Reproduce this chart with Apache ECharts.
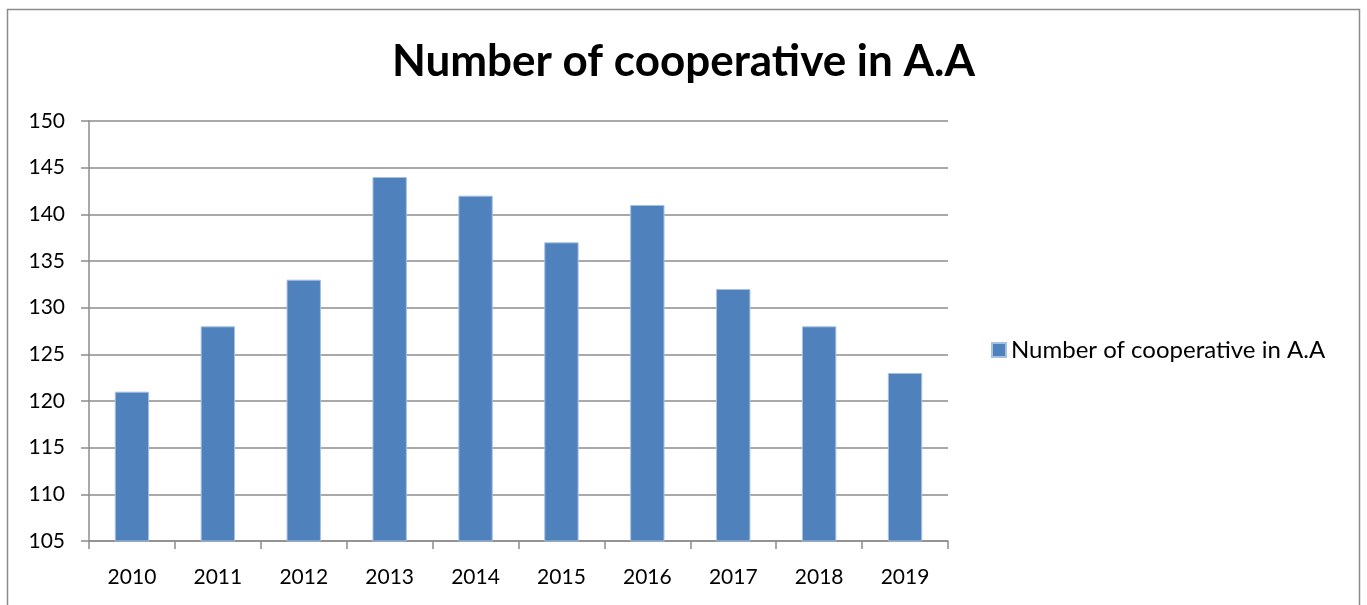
<!DOCTYPE html>
<html><head><meta charset="utf-8">
<script src="https://cdn.jsdelivr.net/npm/echarts@6/dist/echarts.min.js"></script>
<style>html,body{margin:0;padding:0;background:#fff}#c{width:1367px;height:605px}</style>
</head><body><div id="c"></div>
<script>
const categories = ['2010','2011','2012','2013','2014','2015','2016','2017','2018','2019'];
const values = [121,128,133,144,142,137,141,132,128,123];
const seriesName = 'Number of cooperative in A.A';
const titleText = 'Number of cooperative in A.A';
const FONT = 'Lato';
const chart = echarts.init(document.getElementById('c'));
chart.setOption({
  animation:false,
  backgroundColor:'#fff',
  graphic:[{type:'rect',shape:{x:7.5,y:9.5,width:1352,height:620},style:{fill:'none',stroke:'#8c8c8c',lineWidth:1.5},silent:true}],
  title:{text:titleText,left:'center',top:35,textStyle:{fontFamily:FONT,fontWeight:'bold',fontSize:44,color:'#000'}},
  legend:{left:986,top:333,itemWidth:14,itemHeight:14,itemGap:8,icon:'rect',textStyle:{fontFamily:FONT,fontSize:24,color:'#000'},data:[seriesName]},
  grid:{left:89,right:419,top:121,bottom:64,containLabel:false},
  xAxis:{type:'category',data:categories,boundaryGap:true,
    axisLine:{lineStyle:{color:'#8c8c8c',width:1.5}},
    axisTick:{show:true,length:8,alignWithLabel:false,lineStyle:{color:'#8c8c8c',width:1.5}},
    axisLabel:{fontFamily:FONT,fontSize:21,color:'#000',margin:26}},
  yAxis:{type:'value',min:105,max:150,interval:5,
    axisLine:{show:true,lineStyle:{color:'#8c8c8c',width:1.5}},
    axisTick:{show:true,length:8,lineStyle:{color:'#8c8c8c',width:1.5}},
    splitLine:{lineStyle:{color:'#8c8c8c',width:1.5}},
    axisLabel:{fontFamily:FONT,fontSize:21,color:'#000',margin:24}},
  series:[{name:seriesName,type:'bar',data:values,barWidth:'40%',
    itemStyle:{color:'#4f81bd',borderColor:'#a7c0e0',borderWidth:1}}]
});
</script></body></html>
